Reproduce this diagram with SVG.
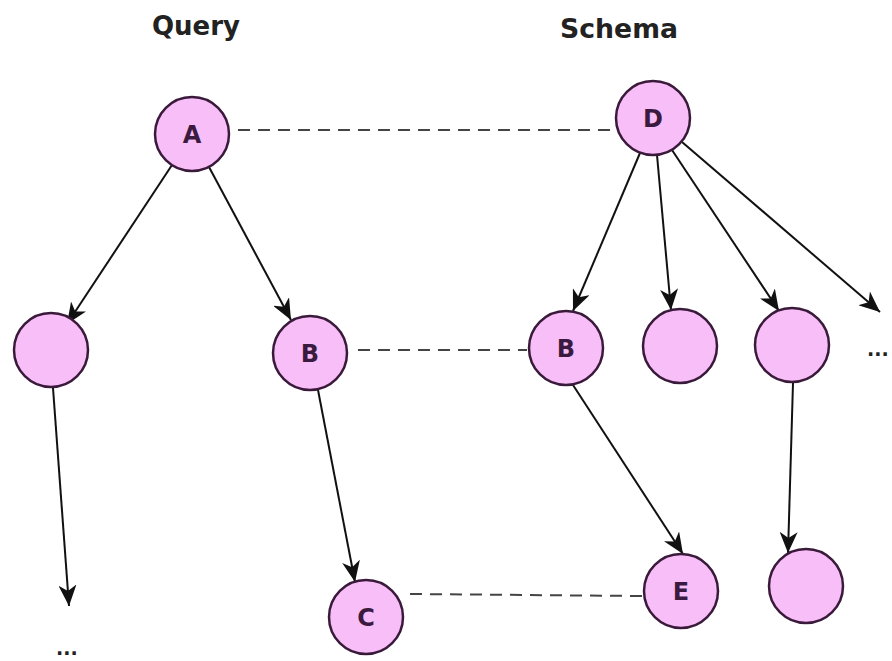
<svg xmlns="http://www.w3.org/2000/svg" width="892" height="661" viewBox="0 0 892 661">
<defs>
<marker id="ah" markerUnits="userSpaceOnUse" markerWidth="24" markerHeight="18" refX="21" refY="9" orient="auto">
<path d="M0,0 L21,9 L0,18 L6,9 Z" fill="#111"/>
</marker>
<style>
.node{fill:#f8bef8;stroke:#3a1a3a;stroke-width:2.5}
.lbl{font-family:"DejaVu Sans",Verdana,sans-serif;font-weight:bold;font-size:24px;fill:#3b1a40;text-anchor:middle}
.title{font-family:"DejaVu Sans",Verdana,sans-serif;font-weight:bold;font-size:26px;fill:#222}
.arr{stroke:#111;stroke-width:2;fill:none;marker-end:url(#ah)}
.dash{stroke:#444;stroke-width:2;stroke-dasharray:12 8;fill:none}
.dots{font-family:"DejaVu Sans",Verdana,sans-serif;font-weight:bold;font-size:19px;fill:#222}
</style>
</defs>
<rect width="892" height="661" fill="#fff"/>
<text class="title" x="152" y="35" textLength="88" lengthAdjust="spacingAndGlyphs">Query</text>
<text class="title" x="560" y="38" textLength="118" lengthAdjust="spacingAndGlyphs">Schema</text>
<g id="connectors">
<line class="dash" x1="238" y1="130" x2="612" y2="130"/>
<line class="dash" x1="358" y1="350" x2="527" y2="350"/>
<line class="dash" x1="410" y1="594" x2="642" y2="596"/>
<line class="arr" x1="172" y1="165" x2="67" y2="324"/>
<line class="arr" x1="209" y1="167" x2="291" y2="320"/>
<line class="arr" x1="640" y1="153" x2="573" y2="311"/>
<line class="arr" x1="657" y1="155" x2="671" y2="310"/>
<line class="arr" x1="672" y1="150" x2="779" y2="311"/>
<line class="arr" x1="682" y1="142" x2="880" y2="312"/>
<line class="arr" x1="53" y1="388" x2="69" y2="606"/>
<line class="arr" x1="318" y1="390" x2="355" y2="582"/>
<line class="arr" x1="573" y1="385" x2="683" y2="554"/>
<line class="arr" x1="793" y1="383" x2="788" y2="553"/>
</g>
<g id="nA"><circle class="node" cx="192" cy="134" r="37"/><text class="lbl" x="192" y="143">A</text></g>
<g id="nD"><circle class="node" cx="653" cy="118" r="37"/><text class="lbl" x="653" y="127">D</text></g>
<g id="nL"><circle class="node" cx="51" cy="350" r="37"/></g>
<g id="nQB"><circle class="node" cx="310" cy="353" r="37"/><text class="lbl" x="310" y="362">B</text></g>
<g id="nSB"><circle class="node" cx="566" cy="348" r="37"/><text class="lbl" x="566" y="357">B</text></g>
<g id="nM"><circle class="node" cx="680" cy="346" r="37"/></g>
<g id="nR"><circle class="node" cx="792" cy="345" r="37"/></g>
<g id="nC"><circle class="node" cx="366" cy="617" r="37"/><text class="lbl" x="366" y="626">C</text></g>
<g id="nE"><circle class="node" cx="681" cy="591" r="37"/><text class="lbl" x="681" y="600">E</text></g>
<g id="nBR"><circle class="node" cx="806" cy="586" r="37"/></g>
<text class="dots" x="56" y="655">...</text>
<text class="dots" x="867" y="356">...</text>
</svg>
